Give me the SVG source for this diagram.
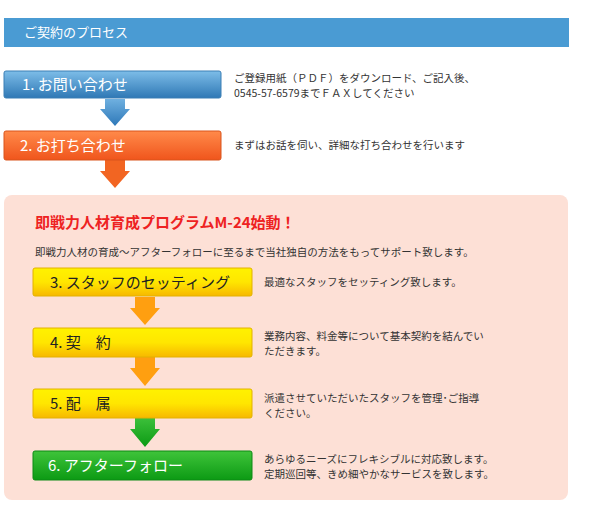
<svg xmlns="http://www.w3.org/2000/svg" width="607" height="518" viewBox="0 0 607 518">
<defs>
<linearGradient id="gBlue" x1="0" y1="0" x2="0" y2="1"><stop offset="0" stop-color="#7dbde8"/><stop offset="1" stop-color="#2f78b5"/></linearGradient>
<linearGradient id="gOr" x1="0" y1="0" x2="0" y2="1"><stop offset="0" stop-color="#ff8a4a"/><stop offset="1" stop-color="#f0551c"/></linearGradient>
<linearGradient id="gY" x1="0" y1="0" x2="0" y2="1"><stop offset="0" stop-color="#fff200"/><stop offset="0.5" stop-color="#ffe600"/><stop offset="1" stop-color="#f7b800"/></linearGradient>
<linearGradient id="gG" x1="0" y1="0" x2="0" y2="1"><stop offset="0" stop-color="#3fc43a"/><stop offset="1" stop-color="#0c9a14"/></linearGradient>
<linearGradient id="aBlue" x1="0" y1="0" x2="0" y2="1"><stop offset="0" stop-color="#6fb0e0"/><stop offset="1" stop-color="#2e78b8"/></linearGradient>
<linearGradient id="aGreen" x1="0" y1="0" x2="0" y2="1"><stop offset="0" stop-color="#3cc03a"/><stop offset="1" stop-color="#0c9a14"/></linearGradient>
</defs>
<style>
text{font-family:"Noto Sans CJK JP","Liberation Sans",sans-serif}
.bt{font-size:15px;fill:#fff}
.yt{font-size:15px;fill:#222}
.d{font-size:10.5px;fill:#333}
</style>
<rect width="607" height="518" fill="#fff"/>
<g id="header"><rect x="4" y="18" width="565" height="29" fill="#4a9bd3"/><text x="24" y="37" font-size="13" fill="#fff">ご契約のプロセス</text></g>
<g id="panel"><rect x="4" y="195" width="564" height="305" rx="8" fill="#fde0d6"/>
<text x="35" y="228" font-size="15" font-weight="bold" fill="#ee2222">即戦力人材育成プログラムM-24始動！</text>
<text x="35" y="256" class="d">即戦力人材の育成～アフターフォローに至るまで当社独自の方法をもってサポート致します。</text></g>
<g id="connectors">
<polygon points="105,99 125,99 125,109 130,109 115,126 100,109 105,109" fill="url(#aBlue)"/>
<polygon points="105,160 125,160 125,171 130,171 115,188 100,171 105,171" fill="#f26522"/>
<polygon points="135,297 155,297 155,308 160,308 145,325 130,308 135,308" fill="#ff9f10"/>
<polygon points="135,357 155,357 155,368 160,368 145,386 130,368 135,368" fill="#ff9f10"/>
<polygon points="135,418 155,418 155,429 160,429 145,447 130,429 135,429" fill="url(#aGreen)"/>
</g>
<g id="n1"><rect x="4" y="71" width="217" height="27" rx="2" fill="url(#gBlue)" stroke="#3b7fb5"/><text x="22" y="90" class="bt">1. お問い合わせ</text>
<text x="234" y="82" class="d">ご登録用紙（ＰＤＦ）をダウンロード、ご記入後、</text><text x="234" y="97" class="d">0545-57-6579までＦＡＸしてください</text></g>
<g id="n2"><rect x="4" y="131" width="217" height="29" rx="2" fill="url(#gOr)" stroke="#d9541c"/><text x="20" y="151" class="bt">2. お打ち合わせ</text>
<text x="234" y="149" class="d">まずはお話を伺い、詳細な打ち合わせを行います</text></g>
<g id="n3"><rect x="33" y="268" width="219" height="28" rx="2" fill="url(#gY)" stroke="#e2b200"/><text x="50" y="288" class="yt">3. スタッフのセッティング</text>
<text x="264" y="286" class="d">最適なスタッフをセッティング致します。</text></g>
<g id="n4"><rect x="33" y="328" width="219" height="29" rx="2" fill="url(#gY)" stroke="#e2b200"/><text x="50" y="348" class="yt">4. 契　約</text>
<text x="264" y="340" class="d">業務内容、料金等について基本契約を結んでい</text><text x="264" y="355" class="d">ただきます。</text></g>
<g id="n5"><rect x="33" y="389" width="219" height="29" rx="2" fill="url(#gY)" stroke="#e2b200"/><text x="50" y="409" class="yt">5. 配　属</text>
<text x="264" y="402" class="d">派遣させていただいたスタッフを管理･ご指導</text><text x="264" y="417" class="d">ください。</text></g>
<g id="n6"><rect x="33" y="451" width="219" height="29" rx="2" fill="url(#gG)" stroke="#0c8a14"/><text x="48" y="471" class="bt">6. アフターフォロー</text>
<text x="264" y="463" class="d">あらゆるニーズにフレキシブルに対応致します。</text><text x="264" y="478" class="d">定期巡回等、きめ細やかなサービスを致します。</text></g>
</svg>
